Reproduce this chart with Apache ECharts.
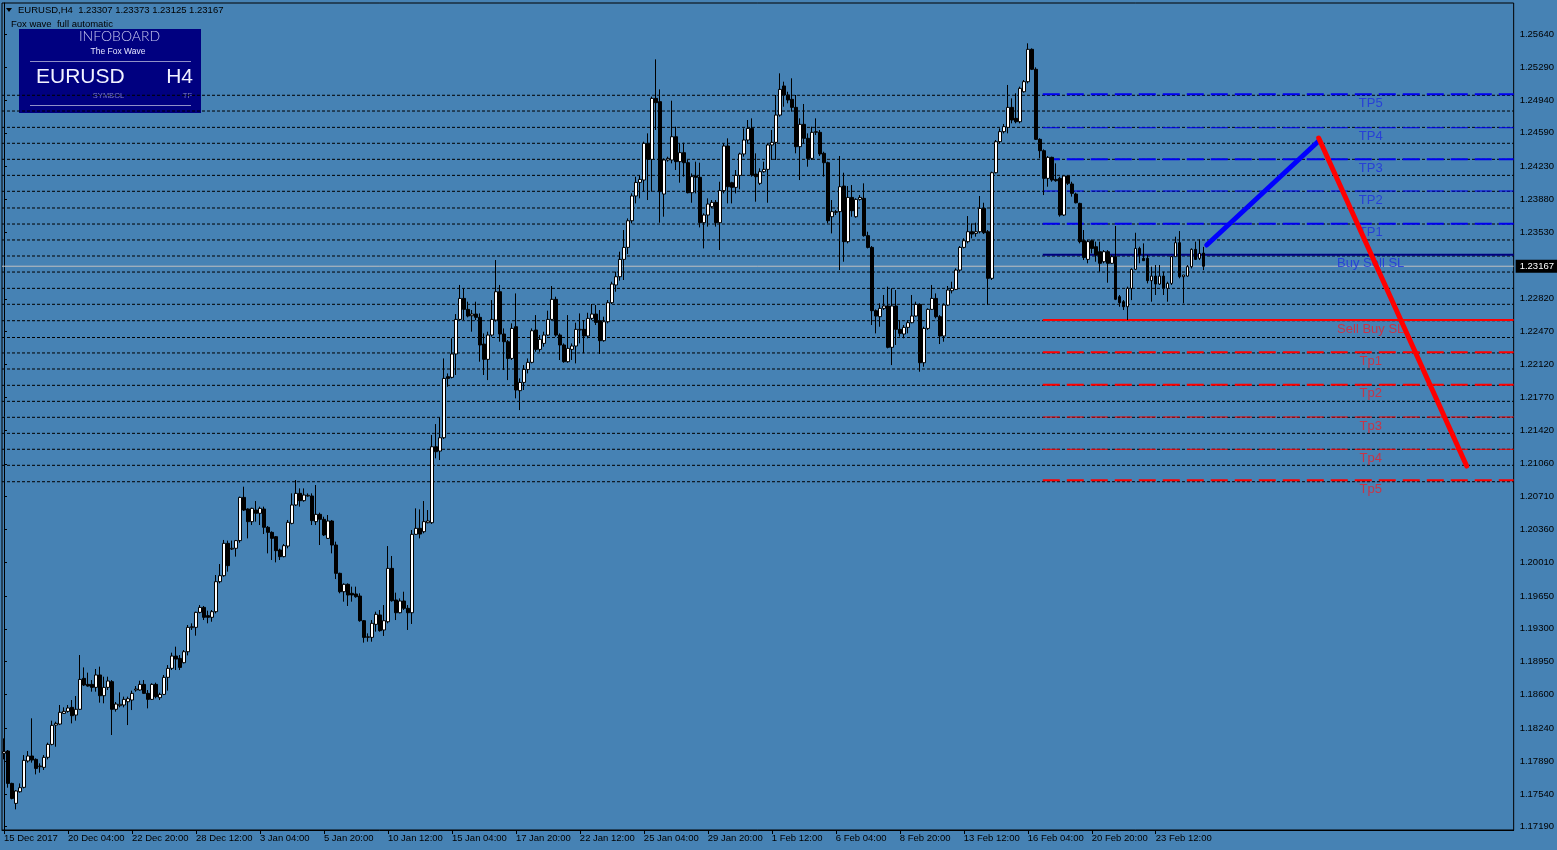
<!DOCTYPE html>
<html><head><meta charset="utf-8">
<script src="https://cdn.jsdelivr.net/npm/echarts@6/dist/echarts.min.js"></script>
<style>html,body{margin:0;padding:0;background:#4682B4;}#c{width:1557px;height:850px;}</style>
</head><body><div id="c"></div>
<script>
// ---------- data ----------
const symbolName = 'EURUSD';
const timeframe = 'H4';
const xTickLabels = ['15 Dec 2017','20 Dec 04:00','22 Dec 20:00','28 Dec 12:00','3 Jan 04:00','5 Jan 20:00','10 Jan 12:00','15 Jan 04:00','17 Jan 20:00','22 Jan 12:00','25 Jan 04:00','29 Jan 20:00','1 Feb 12:00','6 Feb 04:00','8 Feb 20:00','13 Feb 12:00','16 Feb 04:00','20 Feb 20:00','23 Feb 12:00'];
const yTickLabels = ['1.17190','1.17540','1.17890','1.18240','1.18600','1.18950','1.19300','1.19650','1.20010','1.20360','1.20710','1.21060','1.21420','1.21770','1.22120','1.22470','1.22820','1.23530','1.23880','1.24230','1.24590','1.24940','1.25290','1.25640'];
// [open, close, low, high]
const candles = [
[1.17972,1.17990,1.17908,1.18132],[1.17997,1.17652,1.17606,1.18008],[1.17652,1.17492,1.17482,1.17659],[1.17439,1.17571,1.17375,1.17581],
[1.17563,1.17606,1.17553,1.17652],[1.17610,1.17898,1.17599,1.17954],[1.17891,1.17944,1.17873,1.17997],[1.17944,1.17901,1.17873,1.18346],
[1.17908,1.17812,1.17748,1.17919],[1.17830,1.17837,1.17766,1.17866],[1.17823,1.17930,1.17795,1.17954],[1.17930,1.18068,1.17908,1.18086],
[1.18068,1.18271,1.18058,1.18321],[1.18274,1.18292,1.18043,1.18310],[1.18285,1.18410,1.18274,1.18488],[1.18399,1.18420,1.18392,1.18463],
[1.18420,1.18456,1.18406,1.18488],[1.18463,1.18374,1.18292,1.18541],[1.18381,1.18442,1.18321,1.18584],[1.18442,1.18761,1.18434,1.19021],
[1.18772,1.18701,1.18690,1.18889],[1.18708,1.18690,1.18683,1.18833],[1.18708,1.18676,1.18630,1.18754],[1.18676,1.18808,1.18630,1.18872],
[1.18808,1.18587,1.18513,1.18897],[1.18587,1.18676,1.18506,1.18790],[1.18676,1.18744,1.18648,1.18790],[1.18737,1.18442,1.18168,1.18754],
[1.18442,1.18498,1.18417,1.18520],[1.18481,1.18495,1.18463,1.18623],[1.18488,1.18548,1.18463,1.18577],[1.18523,1.18555,1.18274,1.18577],
[1.18541,1.18612,1.18434,1.18641],[1.18648,1.18658,1.18630,1.18690],[1.18648,1.18708,1.18641,1.18747],[1.18708,1.18612,1.18605,1.18754],
[1.18612,1.18548,1.18452,1.18648],[1.18548,1.18708,1.18541,1.18719],[1.18708,1.18577,1.18559,1.18726],[1.18566,1.18601,1.18541,1.18619],
[1.18601,1.18783,1.18594,1.18808],[1.18783,1.18879,1.18641,1.18914],[1.18879,1.19010,1.18861,1.19046],[1.19010,1.18978,1.18861,1.19110],
[1.18985,1.18889,1.18861,1.19021],[1.18939,1.19056,1.18932,1.19074],[1.19056,1.19316,1.19017,1.19341],[1.19313,1.19323,1.19288,1.19359],
[1.19316,1.19476,1.19227,1.19483],[1.19476,1.19529,1.19465,1.19554],[1.19529,1.19423,1.19394,1.19544],[1.19441,1.19423,1.19359,1.19494],
[1.19423,1.19483,1.19376,1.19501],[1.19483,1.19803,1.19465,1.19874],[1.19803,1.19867,1.19785,1.19991],[1.19867,1.20212,1.19856,1.20248],
[1.20212,1.19974,1.19910,1.20241],[1.20151,1.20159,1.20141,1.20241],[1.20159,1.20241,1.20070,1.20248],[1.20241,1.20702,1.20219,1.20710],
[1.20702,1.20567,1.20557,1.20816],[1.20578,1.20443,1.20265,1.20585],[1.20443,1.20585,1.20407,1.20592],[1.20567,1.20532,1.20443,1.20663],
[1.20532,1.20585,1.20407,1.20603],[1.20578,1.20383,1.20311,1.20603],[1.20383,1.20329,1.20105,1.20397],[1.20329,1.20265,1.20034,1.20340],
[1.20283,1.20134,1.20009,1.20290],[1.20141,1.20070,1.20034,1.20155],[1.20070,1.20187,1.20063,1.20205],[1.20183,1.20436,1.20159,1.20461],
[1.20425,1.20621,1.20415,1.20745],[1.20621,1.20745,1.20610,1.20887],[1.20745,1.20667,1.20603,1.20798],[1.20667,1.20727,1.20656,1.20798],
[1.20717,1.20724,1.20710,1.20745],[1.20717,1.20454,1.20407,1.20745],[1.20443,1.20521,1.20407,1.20834],[1.20521,1.20468,1.20194,1.20539],
[1.20468,1.20301,1.20290,1.20496],[1.20265,1.20450,1.20258,1.20514],[1.20450,1.20194,1.20105,1.20461],[1.20194,1.19892,1.19831,1.20230],
[1.19892,1.19696,1.19679,1.19899],[1.19696,1.19775,1.19590,1.19785],[1.19775,1.19661,1.19544,1.19785],[1.19679,1.19661,1.19590,1.19750],
[1.19672,1.19643,1.19632,1.19750],[1.19650,1.19387,1.19376,1.19679],[1.19387,1.19209,1.19153,1.19394],[1.19209,1.19216,1.19163,1.19252],
[1.19209,1.19359,1.19163,1.19394],[1.19348,1.19455,1.19270,1.19483],[1.19448,1.19281,1.19270,1.19501],[1.19288,1.19387,1.19224,1.19554],
[1.19376,1.19945,1.19359,1.20183],[1.19945,1.19600,1.19590,1.20077],[1.19608,1.19472,1.19394,1.19686],[1.19472,1.19597,1.19465,1.19625],
[1.19597,1.19519,1.19501,1.19696],[1.19519,1.19472,1.19288,1.19554],[1.19472,1.20308,1.19352,1.20354],[1.20308,1.20372,1.20301,1.20585],
[1.20372,1.20311,1.20265,1.20574],[1.20336,1.20443,1.20319,1.20663],[1.20432,1.20450,1.20425,1.20567],[1.20432,1.21242,1.20418,1.21367],
[1.21242,1.21189,1.21118,1.21484],[1.21196,1.21338,1.21100,1.21555],[1.21338,1.21971,1.21324,1.22184],[1.21989,1.21971,1.21882,1.22024],
[1.21982,1.22231,1.21971,1.22398],[1.22231,1.22600,1.22007,1.22657],[1.22600,1.22824,1.22586,1.22967],[1.22824,1.22707,1.22593,1.22931],
[1.22707,1.22636,1.22622,1.22789],[1.22639,1.22657,1.22469,1.22700],[1.22657,1.22622,1.22593,1.22789],[1.22622,1.22327,1.22149,1.22664],
[1.22337,1.22174,1.22007,1.22451],[1.22174,1.22433,1.21953,1.22469],[1.22433,1.22600,1.22416,1.22806],[1.22593,1.22895,1.22575,1.23233],
[1.22895,1.22444,1.22362,1.22967],[1.22444,1.22362,1.22060,1.22504],[1.22362,1.22184,1.21953,1.22380],[1.22184,1.22504,1.22167,1.22558],
[1.22522,1.21847,1.21758,1.22877],[1.21840,1.21928,1.21633,1.21971],[1.21928,1.22067,1.21847,1.22113],[1.22067,1.22142,1.22024,1.22184],
[1.22142,1.22479,1.22131,1.22504],[1.22487,1.22280,1.22255,1.22646],[1.22280,1.22387,1.22255,1.22433],[1.22344,1.22433,1.22309,1.22469],
[1.22433,1.22600,1.22423,1.22693],[1.22600,1.22814,1.22586,1.22956],[1.22814,1.22433,1.22416,1.22842],[1.22433,1.22327,1.22167,1.22451],
[1.22327,1.22149,1.22138,1.22344],[1.22149,1.22291,1.22138,1.22646],[1.22280,1.22316,1.22167,1.22344],[1.22316,1.22494,1.22131,1.22565],
[1.22487,1.22494,1.22344,1.22664],[1.22494,1.22423,1.22238,1.22593],[1.22423,1.22611,1.22398,1.22671],[1.22611,1.22657,1.22593,1.22764],
[1.22657,1.22568,1.22540,1.22753],[1.22586,1.22373,1.22231,1.22700],[1.22373,1.22575,1.22362,1.22629],[1.22575,1.22778,1.22558,1.22806],
[1.22778,1.22977,1.22764,1.23002],[1.22967,1.23055,1.22895,1.23109],[1.23055,1.23240,1.23013,1.23322],[1.23240,1.23368,1.23020,1.23553],
[1.23368,1.23652,1.23297,1.23677],[1.23652,1.23916,1.23624,1.23944],[1.23916,1.24061,1.23837,1.24122],[1.24061,1.24093,1.23891,1.24140],
[1.24086,1.24477,1.23962,1.24495],[1.24477,1.24307,1.23873,1.24584],[1.24307,1.24957,1.23962,1.24975],[1.24957,1.24911,1.24620,1.25373],
[1.24922,1.23962,1.23631,1.25053],[1.23937,1.24300,1.23695,1.24317],[1.24300,1.24317,1.24282,1.24335],[1.24300,1.24548,1.24264,1.24932],
[1.24548,1.24282,1.24193,1.24655],[1.24282,1.24378,1.24058,1.24477],[1.24378,1.24271,1.24122,1.24484],[1.24271,1.23951,1.23944,1.24300],
[1.23951,1.24122,1.23844,1.24157],[1.24129,1.24115,1.23944,1.24282],[1.24115,1.23631,1.23581,1.24271],[1.23631,1.23713,1.23357,1.23731],
[1.23713,1.23830,1.23589,1.23891],[1.23802,1.23848,1.23784,1.23873],[1.23848,1.23631,1.23589,1.23873],[1.23631,1.23973,1.23340,1.24068],
[1.23973,1.24449,1.23944,1.24477],[1.24449,1.24015,1.23837,1.24531],[1.24058,1.24008,1.23837,1.24068],[1.24008,1.24136,1.23944,1.24193],
[1.24136,1.24364,1.23987,1.24378],[1.24364,1.24513,1.24335,1.24637],[1.24513,1.24637,1.24477,1.24726],[1.24637,1.24140,1.24122,1.24744],
[1.24150,1.24122,1.23855,1.24371],[1.24051,1.24175,1.24033,1.24211],[1.24175,1.24200,1.24164,1.24282],[1.24200,1.24460,1.23844,1.24477],
[1.24460,1.24488,1.24300,1.24620],[1.24488,1.24779,1.24300,1.24993],[1.24779,1.25053,1.24762,1.25224],[1.25089,1.24993,1.24868,1.25135],
[1.24993,1.24940,1.24904,1.25028],[1.24947,1.24861,1.24815,1.25171],[1.24861,1.24442,1.24371,1.24993],[1.24442,1.24680,1.24086,1.24744],
[1.24680,1.24531,1.24477,1.24897],[1.24531,1.24317,1.24228,1.24584],[1.24317,1.24595,1.24300,1.24655],[1.24595,1.24602,1.24566,1.24744],
[1.24595,1.24364,1.24342,1.24620],[1.24371,1.24271,1.24122,1.24388],[1.24271,1.23652,1.23624,1.24282],[1.23695,1.23749,1.23517,1.23873],
[1.23741,1.23749,1.23713,1.23766],[1.23749,1.24015,1.23126,1.24342],[1.24022,1.23429,1.23215,1.24164],[1.23429,1.23901,1.23411,1.24022],
[1.23901,1.23759,1.23695,1.24033],[1.23695,1.23880,1.23685,1.23891],[1.23880,1.23901,1.23866,1.23926],[1.23891,1.23493,1.23482,1.24051],
[1.23493,1.23368,1.23357,1.23535],[1.23368,1.22693,1.22540,1.23382],[1.22693,1.22636,1.22451,1.22707],[1.22629,1.22718,1.22522,1.22771],
[1.22718,1.22743,1.22700,1.22860],[1.22743,1.22302,1.22291,1.22949],[1.22302,1.22743,1.22113,1.22931],[1.22743,1.22494,1.22327,1.22913],
[1.22494,1.22451,1.22416,1.22593],[1.22444,1.22515,1.22398,1.22540],[1.22515,1.22565,1.22451,1.22593],[1.22565,1.22636,1.22558,1.22860],
[1.22636,1.22760,1.22629,1.22789],[1.22760,1.22138,1.22042,1.22771],[1.22138,1.22504,1.22095,1.22522],[1.22504,1.22707,1.22487,1.22718],
[1.22707,1.22824,1.22700,1.22967],[1.22824,1.22629,1.22611,1.22877],[1.22629,1.22423,1.22337,1.22646],[1.22423,1.22753,1.22362,1.22771],
[1.22753,1.22913,1.22743,1.22956],[1.22906,1.22931,1.22877,1.23002],[1.22920,1.23126,1.22913,1.23144],[1.23126,1.23368,1.23109,1.23382],
[1.23368,1.23439,1.23357,1.23464],[1.23429,1.23535,1.23411,1.23702],[1.23535,1.23510,1.23464,1.23624],[1.23517,1.23535,1.23482,1.23631],
[1.23535,1.23784,1.23517,1.23916],[1.23784,1.23524,1.23510,1.23844],[1.23535,1.23038,1.22753,1.23553],[1.23038,1.24164,1.23020,1.24175],
[1.24164,1.24495,1.24157,1.24513],[1.24495,1.24602,1.24477,1.24637],[1.24602,1.24655,1.24584,1.24684],[1.24648,1.24861,1.24584,1.25100],
[1.24861,1.24726,1.24691,1.24957],[1.24744,1.24708,1.24691,1.25011],[1.24708,1.25064,1.24691,1.25082],[1.25028,1.25135,1.25018,1.25153],
[1.25135,1.25480,1.25117,1.25544],[1.25480,1.25267,1.25259,1.25490],[1.25267,1.24520,1.24513,1.25288],[1.24520,1.24399,1.24317,1.24531],
[1.24399,1.24104,1.23926,1.24413],[1.24104,1.24328,1.24015,1.24342],[1.24328,1.24086,1.24068,1.24335],[1.24093,1.24079,1.24068,1.24264],
[1.24104,1.23713,1.23695,1.24122],[1.23713,1.24129,1.23702,1.24140],[1.24129,1.24051,1.24033,1.24140],[1.24044,1.23944,1.23909,1.24068],
[1.23937,1.23844,1.23837,1.23951],[1.23837,1.23429,1.23411,1.23844],[1.23439,1.23261,1.23233,1.23553],[1.23240,1.23429,1.23198,1.23446],
[1.23439,1.23357,1.23304,1.23453],[1.23375,1.23286,1.23215,1.23429],[1.23322,1.23198,1.23109,1.23429],[1.23215,1.23322,1.23198,1.23339],
[1.23322,1.23198,1.22991,1.23339],[1.23198,1.23269,1.23190,1.23286],[1.23269,1.22814,1.22806,1.23596],[1.22842,1.22778,1.22735,1.22860],
[1.22789,1.22735,1.22700,1.22806],[1.22735,1.22931,1.22593,1.22949],[1.22931,1.23134,1.22806,1.23144],[1.23134,1.23357,1.23126,1.23524],
[1.23357,1.23286,1.23198,1.23375],[1.23251,1.23226,1.23226,1.23411],[1.23251,1.23013,1.22984,1.23286],[1.23013,1.23062,1.22789,1.23162],
[1.23062,1.22977,1.22860,1.23180],[1.22977,1.23062,1.22967,1.23180],[1.23062,1.22931,1.22860,1.23109],[1.22931,1.22984,1.22789,1.23002],
[1.22984,1.23269,1.22967,1.23276],[1.23269,1.23418,1.23269,1.23482],[1.23418,1.23055,1.23038,1.23542],[1.23055,1.23073,1.22771,1.23073],
[1.23062,1.23162,1.23055,1.23180],[1.23162,1.23347,1.23144,1.23357],[1.23347,1.23240,1.23233,1.23429],[1.23251,1.23304,1.23233,1.23453],
[1.23307,1.23167,1.23125,1.23373]
];
// Fox Wave dotted levels
const waveLevels = [1.24990,1.24822,1.24648,1.24478,1.24307,1.24136,1.23966,1.23788,1.23617,1.23447,1.23276,1.23105,1.22931,1.22761,1.22586,1.22407,1.22242,1.22071,1.21897,1.21726,1.21556,1.21385,1.21215,1.21044,1.20869];
const buyLevels = [1.25000,1.24644,1.24307,1.23969,1.23620,1.23290];
const buyNames = ['TP5','TP4','TP3','TP2','TP1','Buy Sell SL'];
const sellLevels = [1.22593,1.22249,1.21903,1.21559,1.21215,1.20884];
const sellNames = ['Sell Buy SL','Tp1','Tp2','Tp3','Tp4','Tp5'];
const buyPathX = [300.75, 328.75];
const buyPathY = [1.23393, 1.24502];
const sellPathX = [328.75, 365.75];
const sellPathY = [1.24534, 1.21036];
const bidPrice = 1.23167;

// ---------- layout / style ----------
const SLOTS = 378;
const LEVEL_START = 259.75;
const LABEL_AT = 341.75;
const FONT = '"Liberation Sans", Arial, sans-serif';
const buyStyle = [{w:2,t:[17,7],c:'#0000f0'},{w:1,t:[17,7],c:'#0000f0'},{w:2,t:[17,7],c:'#0000f0'},{w:1,t:[17,7],c:'#0000f0'},{w:2,t:[17,7],c:'#0000f0'},{w:2,t:'solid',c:'#000080'}];
const sellStyle = [{w:2,t:'solid',c:'#ff0000'},{w:2,t:[17,7],c:'#ff0000'},{w:2,t:[17,7],c:'#ff0000'},{w:1,t:[17,7],c:'#ff0000'},{w:1,t:[17,7],c:'#ff0000'},{w:2,t:[17,7],c:'#ff0000'}];

const categories = [];
for (let i = 0; i < SLOTS; i++) {
  categories.push(i % 16 === 0 && i / 16 < xTickLabels.length ? xTickLabels[i / 16] : '');
}
const yTickValues = yTickLabels.map(Number);
const last = candles[candles.length - 1];
const headerText = symbolName + ',' + timeframe + '  ' + [last[0], last[3], last[2], last[1]].map(v => v.toFixed(5)).join(' ');

const series = [];
waveLevels.forEach(p => series.push({
  type:'line', xAxisIndex:1, data:[[-0.5,p],[SLOTS-0.5,p]], symbol:'none', silent:true, z:1,
  lineStyle:{color:'#000', width:1, type:[3,2]}
}));
buyLevels.forEach((p,i) => series.push({
  type:'line', xAxisIndex:1, data:[[LEVEL_START,p],[SLOTS-0.5,p]], symbol:'none', silent:true, z:2,
  lineStyle:{color:buyStyle[i].c, width:buyStyle[i].w, type:buyStyle[i].t}
}));
sellLevels.forEach((p,i) => series.push({
  type:'line', xAxisIndex:1, data:[[LEVEL_START,p],[SLOTS-0.5,p]], symbol:'none', silent:true, z:2,
  lineStyle:{color:sellStyle[i].c, width:sellStyle[i].w, type:sellStyle[i].t}
}));
series.push({
  type:'line', xAxisIndex:1, data:[[-0.5,bidPrice],[SLOTS-0.5,bidPrice]], symbol:'none', silent:true, z:3,
  lineStyle:{color:'#c0c0c0', width:1},
  endLabel:{show:true, formatter:() => bidPrice.toFixed(5), color:'#fff', backgroundColor:'#000',
    padding:[2,4,1,4], distance:2, fontSize:9.5, fontFamily:FONT}
});
series.push({
  type:'candlestick', xAxisIndex:0, data:candles, barWidth:3, z:5,
  itemStyle:{color:'#ffffff', color0:'#000000', borderColor:'#000000', borderColor0:'#000000', borderColorDoji:'#000000', borderWidth:1}
});
series.push({
  type:'scatter', xAxisIndex:1, symbolSize:1, z:6, silent:true,
  itemStyle:{color:'rgba(0,0,0,0)'},
  data: buyLevels.map((p,i) => ({value:[LABEL_AT,p], name:buyNames[i]})),
  label:{show:true, position:'inside', offset:[0,9], formatter:d => d.name, color:'#1f30e0', fontSize:13, fontFamily:FONT}
});
series.push({
  type:'scatter', xAxisIndex:1, symbolSize:1, z:6, silent:true,
  itemStyle:{color:'rgba(0,0,0,0)'},
  data: sellLevels.map((p,i) => ({value:[LABEL_AT,p], name:sellNames[i]})),
  label:{show:true, position:'inside', offset:[0,9], formatter:d => d.name, color:'#e8202c', fontSize:13, fontFamily:FONT}
});
series.push({
  type:'line', xAxisIndex:1, data:buyPathX.map((x,i) => [x, buyPathY[i]]), symbol:'none', silent:true, z:8,
  lineStyle:{color:'#0000ff', width:5, cap:'round'}
});
series.push({
  type:'line', xAxisIndex:1, data:sellPathX.map((x,i) => [x, sellPathY[i]]), symbol:'none', silent:true, z:8,
  lineStyle:{color:'#ff0000', width:5, cap:'round'}
});

const showLabel = (index, value) => value !== '';

const option = {
  backgroundColor:'#4682B4',
  animation:false,
  grid:{left:2, right:43, top:3, bottom:20, show:true, borderColor:'#000', borderWidth:1, backgroundColor:'transparent'},
  xAxis:[{
    type:'category', data:categories, boundaryGap:true,
    axisLine:{show:true, lineStyle:{color:'#000', width:1}},
    axisTick:{show:true, interval:showLabel, alignWithLabel:true, length:4, lineStyle:{color:'#000'}},
    axisLabel:{show:true, interval:showLabel, align:'left', margin:3, color:'#000', fontSize:9.5, fontFamily:FONT},
    splitLine:{show:false}
  },{
    type:'value', min:-0.5, max:SLOTS-0.5, show:false
  }],
  yAxis:{
    type:'value', position:'right', min:1.17155, max:1.25974, scale:true,
    axisLine:{show:true, lineStyle:{color:'#000', width:1}},
    axisTick:{show:true, customValues:yTickValues, length:3, lineStyle:{color:'#000'}},
    axisLabel:{show:true, customValues:yTickValues, formatter:v => Number(v).toFixed(5), color:'#000', fontSize:9.5, fontFamily:FONT, margin:6},
    splitLine:{show:false}
  },
  series:series,
  graphic:[
    {type:'polygon', shape:{points:[[6,8],[12,8],[9,12]]}, style:{fill:'#000'}},
    {type:'text', style:{x:18, y:10.5, text:headerText, fill:'#000', font:'9.5px ' + FONT, verticalAlign:'middle'}},
    {type:'text', style:{x:11, y:24, text:'Fox wave  full automatic', fill:'#000', font:'9.5px ' + FONT, verticalAlign:'middle'}},
    {type:'rect', shape:{x:19, y:29, width:182, height:84}, style:{fill:'#000080'}},
    {type:'text', style:{x:119.5, y:36.5, text:'INFOBOARD', fill:'#c8c8f0', font:'300 14px Lato, sans-serif', align:'center', verticalAlign:'middle'}},
    {type:'text', style:{x:118, y:51.5, text:'The Fox Wave', fill:'#e4e4ff', font:'8.5px ' + FONT, align:'center', verticalAlign:'middle'}},
    {type:'line', shape:{x1:30, y1:61.5, x2:191, y2:61.5}, style:{stroke:'#9090c8', lineWidth:1}},
    {type:'text', style:{x:36, y:77, text:symbolName, fill:'#f2f2ff', font:'21px ' + FONT, verticalAlign:'middle'}},
    {type:'text', style:{x:193, y:77, text:timeframe, fill:'#f2f2ff', font:'21px ' + FONT, align:'right', verticalAlign:'middle'}},
    {type:'text', style:{x:108.5, y:95.5, text:'SYMBOL', fill:'#8080c0', font:'7.5px ' + FONT, align:'center', verticalAlign:'middle'}},
    {type:'text', style:{x:192, y:95.5, text:'TF', fill:'#8080c0', font:'7.5px ' + FONT, align:'right', verticalAlign:'middle'}},
    {type:'line', shape:{x1:30, y1:105.5, x2:191, y2:105.5}, style:{stroke:'#9090c8', lineWidth:1}}
  ]
};
const chart = echarts.init(document.getElementById('c'), null, {renderer:'canvas'});
chart.setOption(option);
</script>
</body></html>
